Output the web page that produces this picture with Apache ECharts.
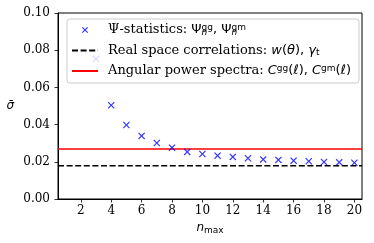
<!DOCTYPE html>
<html><head><meta charset="utf-8">
<script src="https://cdn.jsdelivr.net/npm/echarts@6/dist/echarts.min.js"></script>
<style>html,body{margin:0;padding:0;background:#fff}#c{width:374px;height:243px}</style>
</head><body><div id="c"></div>
<script>
const nmax = [3,4,5,6,7,8,9,10,11,12,13,14,15,16,17,18,19,20];
const psiSigma = [0.0754,0.0504,0.0398,0.0339,0.0301,0.0276,0.0253,0.0242,0.0233,0.0226,0.0219,0.0213,0.0210,0.0206,0.0203,0.0199,0.0197,0.0195];
const realSpaceSigma = 0.0179;
const angularSigma = 0.0269;
const xTicks = [2,4,6,8,10,12,14,16,18,20];
const xMin = 0.5, xMax = 20.5;

const xPath = 'path://M0,1.2L1.2,0L5,3.8L8.8,0L10,1.2L6.2,5L10,8.8L8.8,10L5,6.2L1.2,10L0,8.8L3.8,5Z';
const xLegendPath = 'path://M-16,-6M26,16M0,1.3L1.3,0L5,3.7L8.7,0L10,1.3L6.3,5L10,8.7L8.7,10L5,6.3L1.3,10L0,8.7L3.7,5Z';
const labels = {
  psi: 'Ψ-statistics: {m|Ψ}{subz|n}{sup|gg}{m|, Ψ}{subz|n}{sup|gm}',
  real: 'Real space correlations: {i|w}{m|(}{i|θ}{m|), }{i|γ}{sub|t}',
  ang: 'Angular power spectra: {i|C}{sup|gg}{m|(}{i|ℓ}{m|), }{i|C}{sup|gm}{m|(}{i|ℓ}{m|)}'
};
const chart = echarts.init(document.getElementById('c'), null, {renderer:'canvas'});
chart.setOption({
  animation: false,
  grid: {left:58, right:12, top:13, bottom:44, show:true, borderColor:'#000', borderWidth:1, backgroundColor:'transparent'},
  legend: {
    orient:'vertical', left:67, top:19, padding:[4,8,5,4], itemGap:6.5,
    itemWidth:26, itemHeight:14,
    backgroundColor:'rgba(255,255,255,0.8)', borderColor:'#cccccc', borderWidth:1, borderRadius:3,
    data:[{name:'psi', icon: xLegendPath},{name:'real', itemStyle:{opacity:0}},{name:'ang', itemStyle:{opacity:0}}],
    formatter: n => labels[n],
    textStyle:{
      fontFamily:'DejaVu Serif', fontSize:13, color:'#000', padding:[0,0,0,5], lineHeight:14,
      rich:{
        m:{fontFamily:'DejaVu Sans', fontSize:13, color:'#000', lineHeight:14},
        i:{fontFamily:'DejaVu Sans', fontStyle:'italic', fontSize:13, color:'#000', lineHeight:14},
        sup:{fontFamily:'DejaVu Sans', fontSize:9, color:'#000', verticalAlign:'top', lineHeight:14, padding:[0,0,3,0]},
        sub:{fontFamily:'DejaVu Sans', fontSize:9, color:'#000', verticalAlign:'bottom', lineHeight:14, padding:[3,0,0,0]},
        subz:{fontFamily:'DejaVu Sans', fontSize:9, fontStyle:'italic', color:'#000', verticalAlign:'bottom', lineHeight:14, width:0, padding:[4,0,0,0]}
      }
    }
  },
  xAxis: {
    type:'value', min:xMin, max:xMax,
    name:'{i|n}{s|max}', nameLocation:'middle', nameGap:22,
    nameTextStyle:{rich:{i:{fontFamily:'DejaVu Sans', fontStyle:'italic', fontSize:12, color:'#000'}, s:{fontFamily:'DejaVu Sans', fontSize:9, color:'#000', verticalAlign:'bottom', padding:[5,0,0,0]}}},
    axisLine:{lineStyle:{color:'#000', width:1}},
    axisTick:{show:true, length:3.5, lineStyle:{color:'#000', width:0.8}, customValues:xTicks},
    axisLabel:{fontFamily:'DejaVu Serif', fontSize:12, color:'#000', margin:6, customValues:xTicks},
    splitLine:{show:false}
  },
  yAxis: {
    type:'value', min:0, max:0.1, interval:0.02,
    name:'σ̄', nameLocation:'middle', nameRotate:0, nameGap:44,
    nameTextStyle:{fontFamily:'DejaVu Sans', fontStyle:'italic', fontSize:12, color:'#000', padding:[4,0,0,0]},
    axisLine:{show:true, lineStyle:{color:'#000', width:1}},
    axisTick:{show:true, length:3.5, lineStyle:{color:'#000', width:0.8}},
    axisLabel:{fontFamily:'DejaVu Serif', fontSize:12, color:'#000', margin:8, formatter: v => v.toFixed(2)},
    splitLine:{show:false}
  },
  series: [
    {name:'psi', type:'scatter', symbol:xPath, symbolSize:7, itemStyle:{color:'#0000ff'},
     data: nmax.map((n,i)=>[n, psiSigma[i]]), z:3},
    {name:'real', type:'line', symbol:'none', lineStyle:{color:'#000', width:1.6, type:[6,2.6]}, itemStyle:{color:'#000'},
     data:[[xMin, realSpaceSigma],[xMax, realSpaceSigma]]},
    {name:'ang', type:'line', symbol:'none', lineStyle:{color:'#ff0000', width:1.6}, itemStyle:{color:'#ff0000'},
     data:[[xMin, angularSigma],[xMax, angularSigma]]}
  ]
});
</script></body></html>
